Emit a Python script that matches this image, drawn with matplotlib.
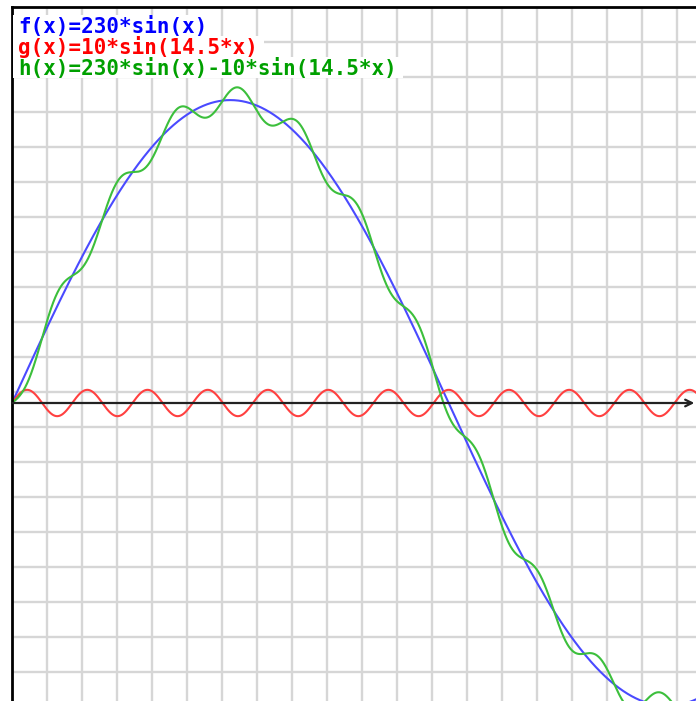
import numpy as np
import matplotlib
matplotlib.use("Agg")
import matplotlib.pyplot as plt
from matplotlib.patches import Rectangle

# function parameters (from the labels)
f_amp = 230
g_amp = 10
g_freq = 14.5
labels = ["f(x)=230*sin(x)", "g(x)=10*sin(14.5*x)", "h(x)=230*sin(x)-10*sin(14.5*x)"]
text_colors = ["#0000ff", "#ff0000", "#00a000"]
line_colors = ["#4a4aff", "#ff4040", "#3cbf3c"]

# pixel scale of the original canvas
W, H = 696, 701
x0_px, top_px = 12, 7          # left / top border
axis_px = 403                  # y pixel of the x axis
px_per_rad = 139.0
px_per_unit = 1.317
grid_px = 35

fig = plt.figure(figsize=(W / 100, H / 100), dpi=100)
ax = fig.add_axes([x0_px / W, 0, 1 - x0_px / W, 1 - top_px / H])

xmax = (W - x0_px) / px_per_rad
ytop = (axis_px - top_px) / px_per_unit
ybot = -(H - axis_px) / px_per_unit

# grid aligned to the canvas pixels, not to the axis
xt = np.arange(1, 20) * grid_px / px_per_rad
yt = (axis_px - top_px - np.arange(1, 20) * grid_px) / px_per_unit
ax.set_xticks(xt[xt < xmax])
ax.set_yticks(yt[yt > ybot])
ax.set_xlim(0, xmax)
ax.set_ylim(ybot, ytop)
ax.grid(True, color="#d6d6d6", linewidth=1.7)
ax.tick_params(length=0, labelbottom=False, labelleft=False)
for s in ["right", "bottom"]:
    ax.spines[s].set_visible(False)
for s in ["left", "top"]:
    ax.spines[s].set_color("black")
    ax.spines[s].set_linewidth(2)

x = np.linspace(0, xmax, 3000)
f = f_amp * np.sin(x)
g = g_amp * np.sin(g_freq * x)
h = f - g

# x axis with arrow
ax.annotate("", xy=(xmax - 0.012, 0), xytext=(0, 0), annotation_clip=False,
            arrowprops=dict(arrowstyle="->", color="#222222", lw=1.6,
                            mutation_scale=12, shrinkA=0, shrinkB=0))

ax.plot(x, f, color=line_colors[0], lw=1.5)
ax.plot(x, g, color=line_colors[1], lw=1.5)
ax.plot(x, h, color=line_colors[2], lw=1.5)

# labels; white boxes behind them hide the grid
texts = []
for i, (lab, c) in enumerate(zip(labels, text_colors)):
    t = fig.text(18 / W, 1 - (26 + 21 * i) / H, lab, color=c, fontsize=15,
                 family="DejaVu Sans Mono", weight="semibold",
                 va="center", ha="left", zorder=5)
    texts.append(t)

fig.canvas.draw()
r = fig.canvas.get_renderer()
for i, t in enumerate(texts):
    bb = t.get_window_extent(r)
    y1 = H - (15 + 21 * i)
    y0 = H - (36 + 21 * i)
    fig.patches.append(Rectangle((x0_px + 1, y0), bb.x1 + 5 - x0_px, y1 - y0,
                                 transform=None, facecolor="white",
                                 edgecolor="none", zorder=4, figure=fig))

fig.savefig("out.png", dpi=100)
